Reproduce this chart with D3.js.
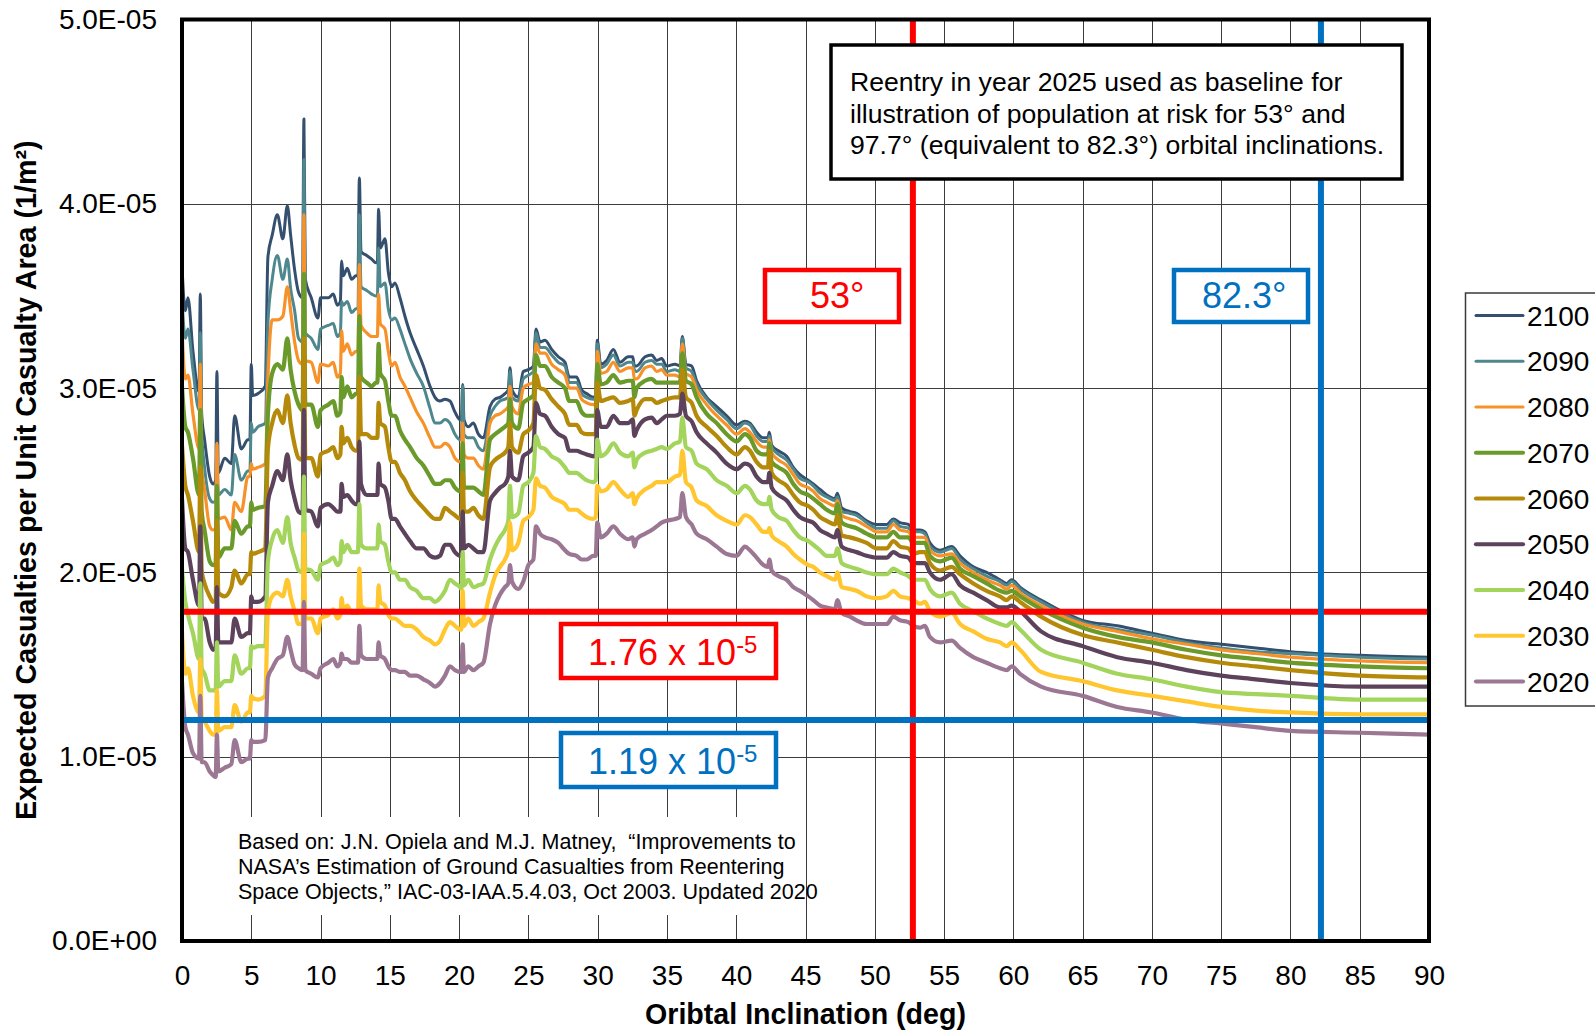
<!DOCTYPE html>
<html>
<head>
<meta charset="utf-8">
<script src="https://cdn.jsdelivr.net/npm/d3@7"></script>
<style>
  html, body { margin: 0; padding: 0; background: #ffffff; }
  svg { display: block; font-family: Arial, "Liberation Sans", Helvetica, sans-serif; }
</style>
</head>
<body>
<svg id="chart" width="1595" height="1033"></svg>
<script>
// ---------------- DATA (values in units of 1E-05 casualties per m²) ----------------
const UNIT = 1e-5;

const inclination = [
  0,0.24,0.43,0.79,1.23,1.32,1.42,1.63,2.0,2.24,2.43,2.52,2.62,3.08,3.56,3.8,4.28,4.76,4.9,5.0,
  5.1,5.48,6.01,6.2,6.51,6.88,7.28,7.6,7.84,8.13,8.41,8.7,8.8,8.9,9.33,9.81,10.0,
  10.56,10.92,11.21,11.43,11.52,11.64,11.93,12.24,12.56,12.7,12.8,12.92,13.33,13.69,14.0,14.1,14.19,14.31,14.65,14.89,
  15.13,15.37,15.73,16.09,16.46,16.94,17.42,17.9,18.26,18.62,18.98,19.34,19.7,20.06,20.16,20.26,20.35,20.66,21.03,21.39,21.75,
  22.23,22.59,22.95,23.31,23.55,23.67,23.82,24.27,24.63,25.0,25.36,25.55,25.84,26.2,26.68,27.16,27.64,27.95,28.48,28.84,
  29.21,29.69,29.86,29.97,30.22,30.65,31.13,31.61,32.21,32.53,32.65,32.81,33.42,33.9,34.26,34.62,34.98,35.58,35.94,36.11,
  36.37,36.78,37.14,37.87,38.59,39.31,40.03,
  40.63,40.99,41.47,41.96,42.29,42.39,42.56,43.04,43.64,44.12,44.6,45.2,45.56,46.05,46.53,47.13,47.3,47.61,48.21,48.69,
  49.41,50.14,50.86,51.34,51.82,52.42,52.78,53.26,53.62,53.98,54.71,55.55,56.15,57.11,58.07,59.04,59.52,59.88,60.48,
  62,65,67.5,70,72.5,75,77.5,80,85,90
];

const y2100 = [
  3.66,3.42,3.49,3.20,2.98,3.51,2.86,2.72,2.52,2.48,2.50,3.09,2.54,2.62,2.59,2.85,2.67,2.72,2.72,3.13,
  2.96,2.97,3.01,3.71,3.83,3.94,3.81,3.99,3.83,3.64,3.52,3.49,4.46,3.59,3.49,3.38,3.49,
  3.49,3.51,3.45,3.47,3.69,3.61,3.65,3.59,3.61,3.61,4.14,3.74,3.72,3.70,3.68,3.68,3.97,3.76,3.81,3.63,
  3.55,3.57,3.49,3.39,3.30,3.21,3.12,3.01,2.95,2.93,2.94,2.93,2.87,2.83,2.83,3.02,2.83,2.79,2.81,2.75,2.73,
  2.90,2.94,2.95,2.97,2.99,3.11,2.99,2.95,3.09,3.10,3.12,3.32,3.25,3.26,3.21,3.17,3.14,3.06,3.06,2.99,
  2.97,2.95,2.96,3.26,3.13,3.15,3.21,3.14,3.17,3.17,3.12,3.12,3.17,3.18,3.15,3.16,3.12,3.13,3.12,3.28,
  3.13,3.12,3.04,2.95,2.90,2.85,2.80,
  2.82,2.81,2.76,2.73,2.73,2.76,2.69,2.66,2.63,2.57,2.53,2.50,2.48,2.45,2.42,2.40,2.43,2.35,2.33,2.32,
  2.28,2.26,2.26,2.29,2.27,2.26,2.23,2.23,2.22,2.16,2.12,2.14,2.09,2.03,2.00,1.96,1.94,1.96,1.92,
  1.85,1.74,1.71,1.67,1.63,1.61,1.59,1.57,1.55,1.54
];
const y2090 = [
  3.49,3.27,3.32,3.10,2.88,3.30,2.76,2.57,2.40,2.38,2.39,2.70,2.42,2.45,2.42,2.64,2.50,2.55,2.55,2.81,
  2.76,2.79,2.81,3.35,3.59,3.72,3.59,3.70,3.54,3.42,3.27,3.25,4.24,3.30,3.27,3.21,3.32,
  3.34,3.35,3.28,3.30,3.47,3.45,3.47,3.41,3.43,3.43,3.94,3.55,3.53,3.51,3.50,3.50,3.76,3.55,3.57,3.43,
  3.37,3.38,3.32,3.24,3.16,3.08,3.01,2.89,2.81,2.81,2.83,2.81,2.75,2.72,2.72,3.01,2.75,2.73,2.73,2.68,2.66,
  2.85,2.90,2.93,2.94,2.95,3.09,2.95,2.93,3.05,3.07,3.09,3.30,3.22,3.22,3.18,3.14,3.12,3.03,3.03,2.97,
  2.95,2.94,2.94,3.24,3.11,3.13,3.18,3.12,3.14,3.14,3.10,3.09,3.14,3.15,3.13,3.13,3.09,3.10,3.09,3.27,
  3.11,3.09,3.02,2.94,2.88,2.83,2.78,
  2.81,2.80,2.74,2.71,2.71,2.74,2.68,2.64,2.61,2.56,2.51,2.49,2.47,2.43,2.41,2.39,2.41,2.33,2.32,2.31,
  2.27,2.24,2.24,2.28,2.25,2.24,2.22,2.22,2.21,2.14,2.11,2.13,2.07,2.02,1.98,1.95,1.93,1.95,1.91,
  1.84,1.73,1.69,1.66,1.62,1.59,1.57,1.56,1.54,1.53
];
const y2080 = [
  3.33,3.05,3.07,2.86,2.67,3.13,2.57,2.45,2.25,2.23,2.24,2.70,2.29,2.30,2.23,2.38,2.33,2.52,2.52,2.59,
  2.56,2.57,2.59,3.05,3.37,3.37,3.39,3.55,3.42,3.25,3.15,3.13,3.94,3.15,3.14,3.03,3.13,
  3.12,3.14,3.06,3.08,3.31,3.20,3.24,3.18,3.20,3.20,3.67,3.34,3.30,3.28,3.28,3.28,3.51,3.35,3.32,3.20,
  3.12,3.14,3.06,3.01,2.95,2.87,2.81,2.73,2.68,2.68,2.70,2.68,2.62,2.60,2.60,2.81,2.64,2.62,2.62,2.58,2.56,
  2.81,2.85,2.86,2.88,2.90,3.01,2.90,2.86,3.00,3.02,3.03,3.24,3.19,3.19,3.13,3.10,3.07,3.00,3.00,2.94,
  2.92,2.91,2.92,3.20,3.08,3.09,3.14,3.09,3.11,3.11,3.05,3.05,3.11,3.12,3.09,3.10,3.07,3.07,3.06,3.24,
  3.08,3.06,2.99,2.91,2.85,2.80,2.75,
  2.78,2.76,2.71,2.68,2.68,2.72,2.65,2.61,2.58,2.53,2.48,2.46,2.44,2.40,2.38,2.36,2.39,2.31,2.29,2.28,
  2.25,2.22,2.22,2.26,2.23,2.22,2.19,2.19,2.19,2.12,2.09,2.10,2.05,2.00,1.96,1.93,1.91,1.93,1.89,
  1.82,1.72,1.68,1.64,1.61,1.58,1.56,1.54,1.52,1.51
];
const y2070 = [
  3.01,2.79,2.76,2.62,2.42,2.88,2.33,2.23,2.06,2.04,2.05,2.47,2.08,2.13,2.13,2.28,2.21,2.25,2.25,2.38,
  2.34,2.35,2.36,2.86,3.08,3.13,3.10,3.27,3.10,2.98,2.91,2.88,3.62,2.91,2.91,2.79,2.88,
  2.91,2.93,2.85,2.87,3.06,2.95,3.01,2.95,2.97,2.97,3.39,3.06,3.03,3.01,3.03,3.03,3.24,3.08,3.04,2.93,
  2.85,2.85,2.77,2.72,2.68,2.62,2.58,2.52,2.48,2.48,2.50,2.50,2.46,2.44,2.44,2.70,2.46,2.46,2.46,2.44,2.42,
  2.72,2.75,2.77,2.79,2.81,2.94,2.81,2.78,2.92,2.94,2.96,3.18,3.12,3.12,3.06,3.03,3.00,2.93,2.93,2.87,
  2.85,2.85,2.85,3.13,3.02,3.03,3.07,3.03,3.04,3.04,2.95,3.00,3.04,3.05,3.03,3.03,3.03,3.03,3.03,3.19,
  3.04,3.02,2.95,2.86,2.81,2.75,2.71,
  2.75,2.73,2.66,2.64,2.64,2.70,2.60,2.57,2.54,2.48,2.44,2.42,2.40,2.37,2.34,2.32,2.37,2.27,2.25,2.24,
  2.21,2.19,2.19,2.22,2.19,2.19,2.16,2.16,2.16,2.09,2.06,2.08,2.02,1.98,1.94,1.90,1.89,1.90,1.87,
  1.80,1.70,1.65,1.62,1.58,1.55,1.53,1.51,1.49,1.48
];
const y2060 = [
  2.69,2.47,2.42,2.28,2.11,2.57,2.01,1.94,1.87,1.84,1.85,2.28,1.89,1.87,1.92,2.01,1.94,1.99,1.99,2.11,
  2.10,2.11,2.13,2.67,2.81,2.88,2.81,2.96,2.81,2.69,2.62,2.61,3.27,2.62,2.62,2.52,2.64,
  2.66,2.68,2.62,2.64,2.79,2.70,2.73,2.68,2.66,2.66,3.06,2.75,2.75,2.73,2.73,2.73,2.92,2.81,2.79,2.68,
  2.60,2.60,2.54,2.50,2.44,2.39,2.35,2.31,2.29,2.29,2.35,2.33,2.31,2.29,2.29,2.54,2.33,2.33,2.35,2.31,2.29,
  2.57,2.61,2.63,2.65,2.68,2.81,2.68,2.65,2.75,2.77,2.81,3.07,3.00,2.99,2.94,2.90,2.86,2.80,2.80,2.76,
  2.75,2.75,2.75,3.03,2.93,2.94,2.95,2.92,2.93,2.94,2.85,2.88,2.94,2.94,2.92,2.93,2.94,2.95,2.95,3.10,
  2.95,2.92,2.85,2.79,2.74,2.68,2.64,
  2.68,2.66,2.60,2.57,2.57,2.66,2.54,2.50,2.47,2.42,2.38,2.36,2.34,2.30,2.28,2.26,2.31,2.20,2.19,2.18,
  2.16,2.13,2.13,2.17,2.14,2.13,2.10,2.11,2.11,2.05,2.01,2.03,1.99,1.94,1.90,1.87,1.85,1.87,1.84,
  1.76,1.66,1.62,1.58,1.54,1.51,1.49,1.47,1.44,1.43
];
const y2050 = [
  2.40,2.13,2.11,1.96,1.82,2.25,1.75,1.75,1.62,1.58,1.59,1.92,1.62,1.62,1.62,1.75,1.65,1.67,1.67,1.87,
  1.84,1.84,1.87,2.38,2.47,2.55,2.50,2.64,2.50,2.40,2.33,2.32,2.88,2.34,2.33,2.25,2.35,
  2.37,2.35,2.33,2.33,2.48,2.41,2.42,2.39,2.37,2.37,2.71,2.48,2.42,2.42,2.42,2.42,2.59,2.48,2.46,2.39,
  2.29,2.29,2.25,2.21,2.17,2.13,2.13,2.09,2.08,2.09,2.15,2.15,2.11,2.09,2.09,2.33,2.13,2.15,2.13,2.11,2.11,
  2.39,2.43,2.46,2.48,2.52,2.66,2.52,2.50,2.63,2.65,2.68,2.92,2.86,2.85,2.79,2.75,2.73,2.66,2.66,2.65,
  2.64,2.63,2.64,2.88,2.79,2.79,2.85,2.81,2.81,2.83,2.74,2.77,2.83,2.84,2.81,2.83,2.85,2.85,2.86,2.97,
  2.85,2.82,2.76,2.70,2.65,2.59,2.56,
  2.59,2.58,2.52,2.49,2.49,2.54,2.46,2.42,2.39,2.34,2.30,2.28,2.27,2.23,2.21,2.19,2.23,2.14,2.12,2.11,
  2.09,2.08,2.08,2.11,2.09,2.08,2.05,2.05,2.05,2.00,1.96,1.99,1.93,1.89,1.85,1.81,1.81,1.82,1.79,
  1.68,1.60,1.54,1.51,1.47,1.44,1.42,1.40,1.38,1.38
];
const y2040 = [
  2.02,1.84,1.77,1.67,1.53,1.94,1.48,1.45,1.36,1.36,1.36,1.62,1.38,1.41,1.41,1.55,1.45,1.48,1.48,1.60,
  1.59,1.60,1.60,2.06,2.18,2.23,2.16,2.30,2.16,2.08,2.01,2.00,2.52,2.02,2.01,1.96,2.04,
  2.06,2.08,2.04,2.06,2.17,2.11,2.15,2.11,2.11,2.11,2.37,2.15,2.13,2.13,2.13,2.13,2.26,2.17,2.15,2.06,
  2.00,2.00,1.96,1.96,1.92,1.90,1.86,1.86,1.84,1.86,1.90,1.96,1.94,1.92,1.91,2.11,1.93,1.96,1.92,1.93,1.94,
  2.07,2.14,2.19,2.23,2.28,2.47,2.30,2.32,2.47,2.49,2.54,2.74,2.68,2.67,2.63,2.61,2.57,2.54,2.54,2.52,
  2.50,2.49,2.50,2.72,2.63,2.65,2.70,2.65,2.63,2.65,2.57,2.61,2.65,2.66,2.67,2.68,2.67,2.70,2.71,2.84,
  2.68,2.66,2.59,2.56,2.50,2.47,2.43,
  2.47,2.45,2.39,2.37,2.37,2.41,2.34,2.30,2.28,2.23,2.19,2.17,2.15,2.12,2.09,2.09,2.13,2.05,2.03,2.02,
  2.00,1.99,1.99,2.02,2.00,1.98,1.96,1.96,1.96,1.91,1.87,1.89,1.83,1.79,1.75,1.72,1.71,1.73,1.69,
  1.58,1.51,1.45,1.42,1.38,1.35,1.34,1.33,1.31,1.31
];
const y2030 = [
  1.68,1.45,1.48,1.33,1.24,1.53,1.21,1.19,1.14,1.12,1.12,1.36,1.14,1.16,1.16,1.28,1.19,1.24,1.24,1.33,
  1.32,1.31,1.33,1.79,1.87,1.89,1.87,1.96,1.87,1.79,1.72,1.72,2.21,1.75,1.75,1.67,1.75,
  1.77,1.80,1.75,1.77,1.86,1.80,1.82,1.78,1.78,1.78,2.02,1.82,1.80,1.80,1.80,1.80,1.93,1.84,1.82,1.77,
  1.75,1.75,1.73,1.71,1.71,1.69,1.65,1.63,1.61,1.63,1.69,1.73,1.71,1.69,1.69,1.90,1.71,1.75,1.71,1.73,1.75,
  1.89,1.98,2.03,2.07,2.12,2.27,2.12,2.16,2.28,2.30,2.34,2.51,2.47,2.46,2.41,2.39,2.37,2.34,2.34,2.32,
  2.30,2.29,2.30,2.47,2.44,2.45,2.49,2.45,2.41,2.43,2.37,2.40,2.45,2.47,2.49,2.49,2.49,2.52,2.53,2.66,
  2.49,2.46,2.39,2.36,2.31,2.28,2.26,
  2.31,2.30,2.26,2.22,2.22,2.24,2.20,2.17,2.14,2.10,2.07,2.04,2.03,2.00,1.98,1.96,2.00,1.92,1.91,1.90,
  1.87,1.86,1.87,1.90,1.87,1.86,1.85,1.83,1.84,1.79,1.76,1.78,1.72,1.68,1.64,1.62,1.60,1.62,1.58,
  1.46,1.41,1.36,1.33,1.30,1.27,1.25,1.24,1.23,1.23
];
const y2020 = [
  1.41,1.16,1.12,1.02,0.99,1.33,0.97,0.97,0.92,0.90,0.89,1.12,0.92,0.94,0.96,1.09,0.97,0.99,0.99,1.09,
  1.08,1.08,1.09,1.43,1.48,1.53,1.55,1.65,1.58,1.50,1.48,1.47,1.84,1.47,1.45,1.43,1.48,
  1.51,1.53,1.49,1.51,1.56,1.53,1.53,1.51,1.51,1.51,1.71,1.55,1.53,1.53,1.53,1.53,1.62,1.55,1.53,1.49,
  1.47,1.47,1.46,1.46,1.44,1.44,1.42,1.40,1.38,1.40,1.44,1.49,1.47,1.46,1.46,1.61,1.46,1.49,1.47,1.49,1.51,
  1.72,1.82,1.88,1.92,1.94,2.04,1.95,1.91,1.95,2.04,2.07,2.25,2.21,2.19,2.18,2.16,2.12,2.10,2.09,2.07,
  2.07,2.09,2.09,2.27,2.19,2.21,2.25,2.21,2.18,2.19,2.14,2.18,2.21,2.23,2.25,2.27,2.28,2.29,2.30,2.43,
  2.30,2.26,2.21,2.18,2.14,2.10,2.09,
  2.14,2.12,2.08,2.04,2.03,2.07,2.01,1.98,1.96,1.92,1.90,1.87,1.85,1.82,1.81,1.80,1.85,1.78,1.76,1.74,
  1.72,1.72,1.72,1.76,1.74,1.73,1.71,1.70,1.71,1.65,1.62,1.63,1.59,1.54,1.51,1.48,1.47,1.49,1.45,
  1.38,1.33,1.27,1.24,1.20,1.18,1.16,1.14,1.13,1.12
];

const seriesNames = ["2100","2090","2080","2070","2060","2050","2040","2030","2020"];
const seriesValues = [y2100,y2090,y2080,y2070,y2060,y2050,y2040,y2030,y2020];

const xTickValues = [0,5,10,15,20,25,30,35,40,45,50,55,60,65,70,75,80,85,90];
const yTickValues = [0,1e-5,2e-5,3e-5,4e-5,5e-5];
const yTickLabels = ["0.0E+00","1.0E-05","2.0E-05","3.0E-05","4.0E-05","5.0E-05"];

// reference lines
const refInclination53 = 52.75;
const refInclination823 = 82.2;
const refValueRed = 1.787;   // ×1E-05
const refValueBlue = 1.199;  // ×1E-05

// ---------------- STYLE ----------------
const colors = {
  "2100":"#34506E","2090":"#4E878D","2080":"#F7922A","2070":"#699A2A","2060":"#B58A0A",
  "2050":"#5C435B","2040":"#A3D45B","2030":"#FFC62F","2020":"#9B7794"
};
const widths = {
  "2100":3,"2090":3,"2080":3.2,"2070":4.2,"2060":4.2,"2050":4.2,"2040":4.2,"2030":4.2,"2020":4.2
};
const RED = "#FF0000", BLUE = "#0070C0";

// ---------------- CHART ----------------
seriesValues.forEach((s,i) => {
  if (s.length !== inclination.length) throw new Error("length mismatch " + seriesNames[i] + " " + s.length + " vs " + inclination.length);
});

const svg = d3.select("#chart");
const W = 1595, H = 1033;
const plot = { left: 182, right: 1429, top: 19.5, bottom: 941 };

svg.append("rect").attr("width", W).attr("height", H).attr("fill", "#fff");

const x = d3.scaleLinear().domain([0, 90]).range([plot.left, plot.right]);
const y = d3.scaleLinear().domain([0, 5e-5]).range([plot.bottom, plot.top]);

// gridlines
const grid = svg.append("g").attr("stroke", "#3c3c3c").attr("stroke-width", 1);
grid.selectAll("line.v").data(xTickValues.slice(1, -1)).join("line")
  .attr("class", "v")
  .attr("x1", d => Math.round(x(d)) + 0.5).attr("x2", d => Math.round(x(d)) + 0.5)
  .attr("y1", plot.top).attr("y2", plot.bottom);
grid.selectAll("line.h").data(yTickValues.slice(1, -1)).join("line")
  .attr("class", "h")
  .attr("y1", d => Math.round(y(d)) + 0.5).attr("y2", d => Math.round(y(d)) + 0.5)
  .attr("x1", plot.left).attr("x2", plot.right);

// series (2100 drawn first, 2020 last, on top)
const line = d3.line()
  .x((d, i) => x(inclination[i]))
  .y(d => y(d * UNIT))
  .curve(d3.curveMonotoneX);

const seriesG = svg.append("g").attr("fill", "none")
  .attr("stroke-linejoin", "round").attr("stroke-linecap", "round");
seriesNames.forEach((name, i) => {
  seriesG.append("path")
    .attr("d", line(seriesValues[i]))
    .attr("stroke", colors[name])
    .attr("stroke-width", widths[name]);
});

// reference lines
const refG = svg.append("g").attr("stroke-width", 6);
refG.append("line").attr("stroke", RED)
  .attr("x1", x(refInclination53)).attr("x2", x(refInclination53))
  .attr("y1", plot.top).attr("y2", plot.bottom);
refG.append("line").attr("stroke", RED)
  .attr("x1", plot.left).attr("x2", plot.right)
  .attr("y1", y(refValueRed * UNIT)).attr("y2", y(refValueRed * UNIT));
refG.append("line").attr("stroke", BLUE)
  .attr("x1", x(refInclination823)).attr("x2", x(refInclination823))
  .attr("y1", plot.top).attr("y2", plot.bottom);
refG.append("line").attr("stroke", BLUE)
  .attr("x1", plot.left).attr("x2", plot.right)
  .attr("y1", y(refValueBlue * UNIT)).attr("y2", y(refValueBlue * UNIT));

// citation (white backing hides gridlines)
svg.append("rect").attr("x", 226).attr("y", 817).attr("width", 574).attr("height", 98).attr("fill", "#fff");
const cite = svg.append("g").style("font-size", "21.5px").attr("fill", "#000");
[
  "Based on: J.N. Opiela and M.J. Matney,  \u201CImprovements to",
  "NASA\u2019s Estimation of Ground Casualties from Reentering",
  "Space Objects,\u201D IAC-03-IAA.5.4.03, Oct 2003. Updated 2020"
].forEach((t, i) => {
  cite.append("text").attr("x", 238).attr("y", 849 + i * 25).attr("xml:space", "preserve").text(t);
});

// value boxes
function valueBox(yTop, color, mantissa) {
  svg.append("rect").attr("x", 561).attr("y", yTop).attr("width", 215).attr("height", 54)
    .attr("fill", "#fff").attr("stroke", color).attr("stroke-width", 4.5);
  const t = svg.append("text").attr("x", 588).attr("y", yTop + 40.5)
    .attr("fill", color).style("font-size", "36px");
  t.append("tspan").text(mantissa + " x 10");
  t.append("tspan").attr("dy", -12).style("font-size", "24px").text("-5");
}
valueBox(624, RED, "1.76");
valueBox(733, BLUE, "1.19");

// angle boxes
function angleBox(xLeft, color, label, textX) {
  svg.append("rect").attr("x", xLeft).attr("y", 270).attr("width", 134).attr("height", 52)
    .attr("fill", "#fff").attr("stroke", color).attr("stroke-width", 4.5);
  svg.append("text").attr("x", textX).attr("y", 308).attr("fill", color)
    .style("font-size", "36px").text(label);
}
angleBox(765, RED, "53\u00B0", 810);
angleBox(1174, BLUE, "82.3\u00B0", 1202);

// top annotation box
svg.append("rect").attr("x", 831).attr("y", 45).attr("width", 571).attr("height", 134)
  .attr("fill", "#fff").attr("stroke", "#000").attr("stroke-width", 3.5);
const note = svg.append("g").style("font-size", "26.6px").attr("fill", "#000");
[
  "Reentry in year 2025 used as baseline for",
  "illustration of population at risk for 53\u00B0 and",
  "97.7\u00B0 (equivalent to 82.3\u00B0) orbital inclinations."
].forEach((t, i) => {
  note.append("text").attr("x", 850).attr("y", 91 + i * 31.5).text(t);
});

// plot border
svg.append("rect").attr("x", plot.left).attr("y", plot.top)
  .attr("width", plot.right - plot.left).attr("height", plot.bottom - plot.top)
  .attr("fill", "none").attr("stroke", "#000").attr("stroke-width", 4);

// axes
const yAxis = svg.append("g").attr("transform", `translate(${plot.left},0)`)
  .call(d3.axisLeft(y).tickValues(yTickValues).tickFormat((d, i) => yTickLabels[i]).tickSize(0).tickPadding(25));
yAxis.select(".domain").remove();
yAxis.selectAll("text").style("font-size", "28px").attr("fill", "#000")
  .style("font-family", "Arial, 'Liberation Sans', sans-serif");

const xAxis = svg.append("g").attr("transform", `translate(0,${plot.bottom})`)
  .call(d3.axisBottom(x).tickValues(xTickValues).tickFormat(d3.format("d")).tickSize(0).tickPadding(24));
xAxis.select(".domain").remove();
xAxis.selectAll("text").style("font-size", "28px").attr("fill", "#000")
  .style("font-family", "Arial, 'Liberation Sans', sans-serif");

// axis titles
svg.append("text").attr("x", (plot.left + plot.right) / 2).attr("y", 1024)
  .attr("text-anchor", "middle").style("font-size", "28.6px").style("font-weight", "bold")
  .text("Oribtal Inclination (deg)");
svg.append("text")
  .attr("transform", `translate(35.5,${(plot.top + plot.bottom) / 2}) rotate(-90)`)
  .attr("text-anchor", "middle").style("font-size", "28.7px").style("font-weight", "bold")
  .text("Expected Casualties per Unit Casualty Area (1/m\u00B2)");

// legend
const legend = svg.append("g");
legend.append("rect").attr("x", 1465.5).attr("y", 293).attr("width", 140).attr("height", 413)
  .attr("fill", "#fff").attr("stroke", "#3a3a3a").attr("stroke-width", 1.5);
seriesNames.forEach((name, i) => {
  const cy = 315.5 + i * 45.75;
  legend.append("line").attr("x1", 1476).attr("x2", 1523).attr("y1", cy).attr("y2", cy)
    .attr("stroke", colors[name]).attr("stroke-width", widths[name]).attr("stroke-linecap", "round");
  legend.append("text").attr("x", 1527).attr("y", cy + 10).style("font-size", "28px").text(name);
});
</script>
</body>
</html>
